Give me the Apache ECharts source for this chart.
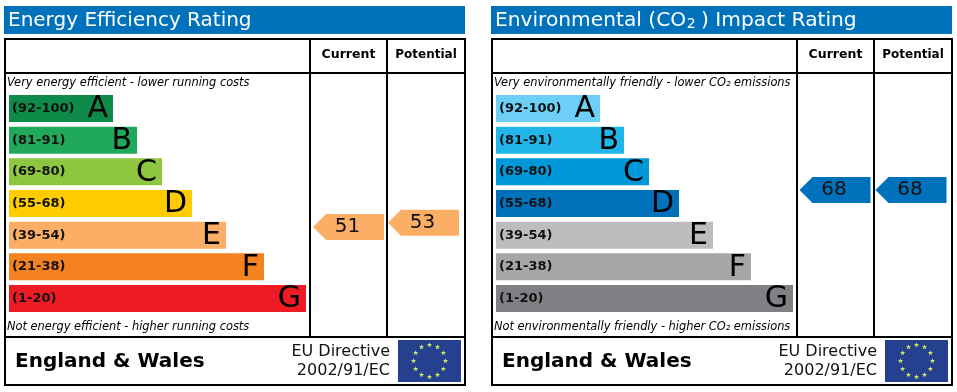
<!DOCTYPE html>
<html><head><meta charset="utf-8">
<style>html,body{margin:0;padding:0;background:#fff}#c{width:957px;height:392px}</style>
<script src="https://cdn.jsdelivr.net/npm/echarts@6/dist/echarts.min.js"></script>
</head><body><div id="c"></div>
<script>
var bandLetters = ['A','B','C','D','E','F','G'];
var bandRanges = ['(92-100)','(81-91)','(69-80)','(55-68)','(39-54)','(21-38)','(1-20)'];
var barLengths = [104,128,153,183,217,255,297];
var columns = ['Current','Potential'];
var energyRatings = [51,53];
var environmentRatings = [68,68];
var energyColors = ['#0f8b49','#21a95b','#8dc63f','#ffcc00','#fbae66','#f58220','#ed1c24'];
var environmentColors = ['#6dcff6','#21b5ea','#0098d8','#0072bc','#bbbdbf','#a6a6a8','#808084'];
var energyPointer = '#fbae66', environmentPointer = '#0072bc';

var FONT = '"DejaVu Sans", Verdana, sans-serif';
var panels = [
  {title:'Energy Efficiency Rating', top:'Very energy efficient - lower running costs', bottom:'Not energy efficient - higher running costs',
   x:5, w:460, titleX:4, titleW:461, c1:310, c2:387, barLeft:9, ptrLeft:311, ptrW:150, colors:energyColors, ratings:energyRatings, ptr:energyPointer},
  {title:'{t|Environmental (CO}{s|2}{t|) Impact Rating}', top:'Very environmentally friendly - lower CO₂ emissions', bottom:'Not environmentally friendly - higher CO₂ emissions',
   x:492, w:460, titleX:491, titleW:461, c1:797, c2:874, barLeft:496, ptrLeft:797, ptrW:152, colors:environmentColors, ratings:environmentRatings, ptr:environmentPointer}
];
var grid=[],xAxis=[],yAxis=[],series=[],graphic=[];
function rect(x,y,w,h,fill){graphic.push({type:'rect',silent:true,z:1,shape:{x:x,y:y,width:w,height:h},style:{fill:fill}});}
function txt(x,y,t,font,fill,align,rich){graphic.push({type:'text',silent:true,z:3,x:x,y:y,style:{text:t,font:font,fill:fill||'#000',align:align||'left',verticalAlign:'middle',rich:rich}});}
var titleRich={t:{font:'20.2px '+FONT,fill:'#fff'},s:{font:'14px '+FONT,fill:'#fff',verticalAlign:'bottom',padding:[0,5.5,0,0.5],lineHeight:14}};
panels.forEach(function(p,i){
  var L=p.x, R=p.x+p.w;
  rect(p.titleX,6,p.titleW,28,'#0072bc');
  txt(p.titleX+4,21,p.title,'20px '+FONT,'#fff','left',i?titleRich:undefined);
  // frame
  rect(L-1,38,p.w+2,2,'#000'); rect(L-1,72,p.w+2,2,'#000'); rect(L-1,336,p.w+2,2,'#000'); rect(L-1,384,p.w+2,2,'#000');
  rect(L-1,38,2,348,'#000'); rect(R-1,38,2,348,'#000');
  rect(p.c1-1,38,2,299,'#000'); rect(p.c2-1,38,2,299,'#000');
  txt((p.c1+p.c2)/2,55,columns[0],'bold 12.5px '+FONT,'#000','center');
  txt((p.c2+R)/2,55,columns[1],'bold 12px '+FONT,'#000','center');
  txt(L+2,83.5,p.top,'italic 11.4px '+FONT,'#000');
  txt(L+2,327,p.bottom,'italic 11.4px '+FONT,'#000');
  txt(L+10,362,'England & Wales','bold 20px '+FONT,'#000');
  txt(L+385,352,'EU Directive','16px '+FONT,'#111','right');
  txt(L+385,371,'2002/91/EC','16px '+FONT,'#111','right');
  // flag
  var fx=L+393, fy=340;
  rect(fx,fy,63,42,'#24408e');
  for(var s=0;s<12;s++){
    var a=s*Math.PI/6, cx=fx+31.5+16*Math.sin(a), cy=fy+21-16*Math.cos(a), pts=[];
    for(var k=0;k<10;k++){var r=k%2?1.1:2.8, b=k*Math.PI/5; pts.push([cx+r*Math.sin(b),cy-r*Math.cos(b)]);}
    graphic.push({type:'polygon',silent:true,z:3,shape:{points:pts},style:{fill:'#d4e866'}});
  }
  // bars
  var g=i*2;
  grid.push({left:p.barLeft,top:92.67,width:297,height:221.67});
  xAxis.push({gridIndex:g,type:'value',min:0,max:297,show:false});
  yAxis.push({gridIndex:g,type:'category',inverse:true,data:bandRanges,z:5,
    axisLine:{show:false},axisTick:{show:false},splitLine:{show:false},
    axisLabel:{inside:true,color:'#111',fontFamily:FONT,fontWeight:'bold',fontSize:13,margin:3}});
  series.push({type:'bar',xAxisIndex:g,yAxisIndex:g,barWidth:27,silent:true,
    data:barLengths.map(function(v,j){return {value:v,itemStyle:{color:p.colors[j]},
      label:{show:true,position:'insideRight',distance:5,offset:[0,1],formatter:bandLetters[j],color:'#000',fontFamily:FONT,fontSize:30}};})});
  // pointers
  grid.push({left:p.ptrLeft,top:120.4,width:p.ptrW,height:217.6});
  xAxis.push({gridIndex:g+1,type:'category',data:columns,show:false});
  yAxis.push({gridIndex:g+1,type:'value',min:0,max:100,show:false});
  series.push({type:'scatter',xAxisIndex:g+1,yAxisIndex:g+1,silent:true,clip:false,
    symbol:'path://M0,13 L13,0 L71,0 L71,26 L13,26 Z',symbolSize:[71,26],
    itemStyle:{color:p.ptr,opacity:1},
    label:{show:true,position:'inside',formatter:function(o){return o.value[1];},color:'#111',fontFamily:FONT,fontSize:20,offset:[-1,0]},
    data:p.ratings.map(function(v,j){return [j,v];})});
});
var chart=echarts.init(document.getElementById('c'),null,{renderer:'canvas'});
chart.setOption({animation:false,backgroundColor:'#fff',grid:grid,xAxis:xAxis,yAxis:yAxis,series:series,graphic:graphic});
</script></body></html>
